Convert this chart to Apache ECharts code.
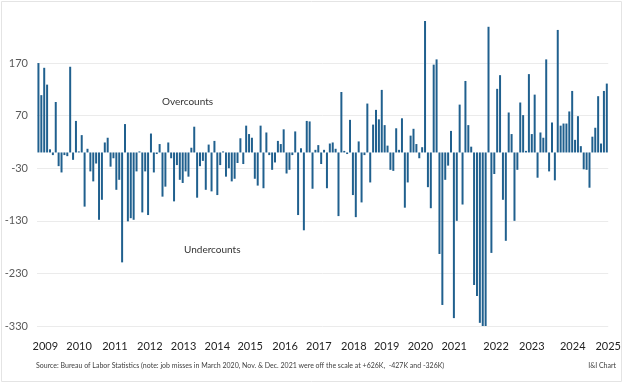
<!DOCTYPE html>
<html>
<head>
<meta charset="utf-8">
<script src="https://cdn.jsdelivr.net/npm/echarts@6/dist/echarts.min.js"></script>
<style>
html,body{margin:0;padding:0;background:#fff;}
#c{width:624px;height:384px;}
</style>
</head>
<body>
<div id="c"></div>
<script>
// Monthly job-report misses (thousands), Jan 2009 .. Jun 2025
const months = [];
for (let y = 2009; y <= 2025; y++) {
  for (let m = 1; m <= 12; m++) {
    if (y === 2025 && m > 6) break;
    months.push(y + '-' + (m < 10 ? '0' + m : m));
  }
}
const misses = [
  170, 109, 161, 129, 6, -5, 96, -26, -38, -5, -7, 163,
  -14, 60, 2, 33, -103, 7, -36, -55, -21, -128, -90, 19,
  28, -27, -11, -71, -52, -209, 54, -131, -125, -128, -36, 2,
  -114, -36, -119, 36, -38, -3, 16, -84, -65, 19, -11, -93,
  -24, -52, -58, -36, -46, 9, 49, -86, -26, -16, -71, 15,
  -74, 22, -81, -24, 2, -46, -30, -55, -50, -20, 27, -22,
  51, 35, 28, -50, -63, 51, -68, 38, -5, -33, -19, 22,
  16, 44, -40, -33, -5, 40, -119, 8, -148, 60, 59, -69,
  5, 14, -22, 5, -68, 17, 19, 7, -121, 115, 3, -3,
  62, -81, -123, 21, -95, -5, 93, -57, 53, 81, 63, 119,
  52, 13, -33, -35, 46, 5, 65, -105, -57, 32, 45, 16,
  -11, 10, 626, -66, -106, 167, 177, -193, -290, -52, -25, 41,
  -315, -130, 91, -99, 136, 52, 11, -252, -273, -324, -427, -526,
  239, -191, -41, 121, 147, -90, -168, 76, 35, -130, -33, 95,
  71, 3, 149, 35, 110, -48, 38, 28, 177, -36, 57, -53,
  233, 51, 55, 55, 78, 117, 24, 69, 12, -32, -33, -67,
  30, 47, 107, 17, 117, 131
];
const yearLabels = ['2009','2010','2011','2012','2013','2014','2015','2016','2017','2018','2019','2020','2021','2022','2023','2024','2025'];
const yearLabelAt = [2.4, 14.1, 26.5, 38.6, 50.3, 62, 73.4, 85.5, 97.2, 109.3, 120.7, 132.4, 144.1, 158.6, 171, 185.2, 197.5];
const yTicks = [-330, -230, -130, -30, 70, 170];
const noteText = 'Source: Bureau of Labor Statistics (note: job misses in March 2020, Nov. & Dec. 2021 were off the scale at +626K,  -427K and -326K)';

const FONT = 'Lato, "Liberation Sans", sans-serif';
const chart = echarts.init(document.getElementById('c'), null, {renderer: 'canvas'});
chart.setOption({
  animation: false,
  backgroundColor: '#ffffff',
  grid: {left: 37, right: 11, top: 21, bottom: 58, containLabel: false},
  xAxis: [
    {
      type: 'category', data: months,
      axisLine: {show: false}, axisTick: {show: false}, axisLabel: {show: false},
      splitLine: {show: false}
    },
    {
      type: 'value', min: -0.5, max: 197.5, position: 'bottom',
      axisLine: {show: false}, axisTick: {show: false}, splitLine: {show: false},
      axisLabel: {
        customValues: yearLabelAt,
        margin: 15,
        color: '#1f1f1f', fontSize: 11, fontFamily: FONT,
        formatter: function (v) {
          let best = 0, d = 1e9;
          yearLabelAt.forEach(function (p, i) { if (Math.abs(p - v) < d) { d = Math.abs(p - v); best = i; } });
          return yearLabels[best];
        }
      }
    }
  ],
  yAxis: {
    type: 'value', min: -330, max: 250, interval: 100,
    axisLine: {show: false}, axisTick: {show: false},
    axisLabel: {
      color: '#595959', fontSize: 11, fontFamily: FONT, margin: 9,
      formatter: function (v) { return yTicks.indexOf(v) >= 0 ? String(v) : ''; }
    },
    splitLine: {show: true, showMaxLine: false, lineStyle: {color: '#ebebeb', width: 1}}
  },
  series: [{
    type: 'bar', xAxisIndex: 0, data: misses, clip: true,
    barWidth: 2,
    itemStyle: {color: '#20608e'}
  }],
  graphic: [
    {type: 'rect', shape: {x: 1.5, y: 1.5, width: 620, height: 380}, style: {fill: 'none', stroke: '#e4e4e4', lineWidth: 1}, silent: true},
    {type: 'text', left: 162, top: 97, style: {text: 'Overcounts', font: '10px ' + FONT, fill: '#333333'}},
    {type: 'text', left: 184, top: 245, style: {text: 'Undercounts', font: '10px ' + FONT, fill: '#333333'}},
    {type: 'text', left: 36, top: 362, style: {text: noteText, font: '7px ' + FONT, fill: '#404040'}},
    {type: 'text', right: 8, top: 362, style: {text: 'I&I Chart', font: '7px ' + FONT, fill: '#404040'}}
  ]
});
</script>
</body>
</html>
